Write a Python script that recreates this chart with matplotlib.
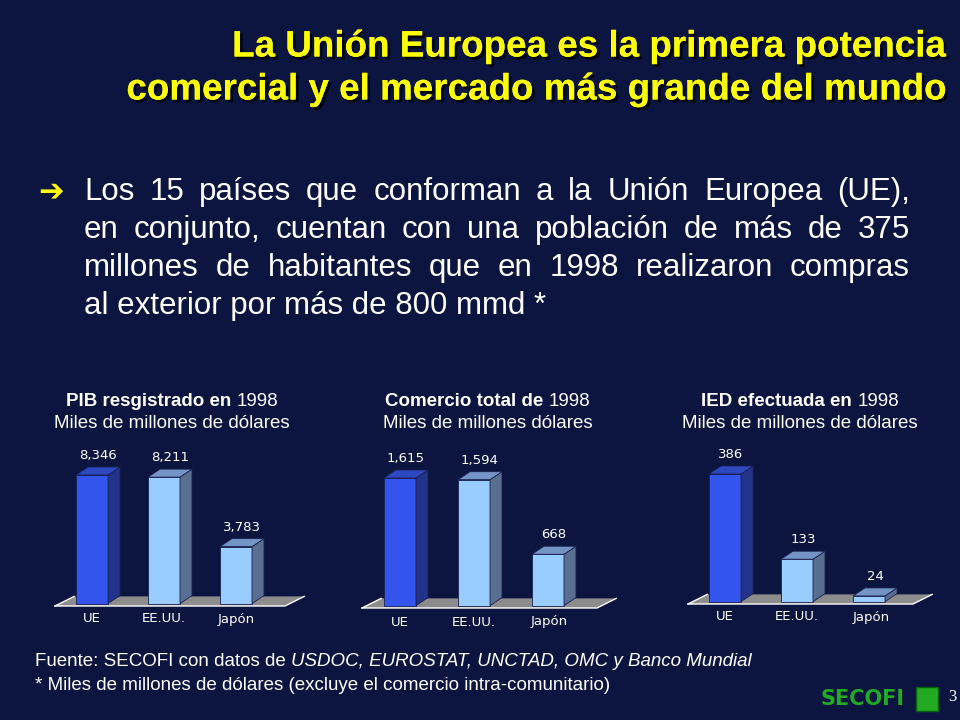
import matplotlib
matplotlib.use("Agg")
import matplotlib.pyplot as plt
import matplotlib.patheffects as pe
from matplotlib.patches import Polygon, Rectangle

BG = "#0b1540"
FONT = "Liberation Sans"

categories = ["UE", "EE.UU.", "Japón"]
pib = [8346, 8211, 3783]
comercio = [1615, 1594, 668]
ied = [386, 133, 24]
pib_labels = ["8,346", "8,211", "3,783"]
comercio_labels = ["1,615", "1,594", "668"]
ied_labels = ["386", "133", "24"]

fig = plt.figure(figsize=(9.6, 7.2), dpi=100)
fig.patch.set_facecolor(BG)
W, H = 960, 720


def ftext(x, y, s, **kw):
    kw.setdefault("family", FONT)
    kw.setdefault("color", "white")
    return fig.text(x / W, 1 - y / H, s, **kw)


# title
shadow = [pe.withSimplePatchShadow(offset=(2, -2), shadow_rgbFace="black", alpha=0.8), pe.Normal()]
ftext(945, 47, "La Unión Europea es la primera potencia", size=26.5, weight="bold",
      color="#ffff00", ha="right", va="center", path_effects=shadow)
ftext(945, 90, "comercial y el mercado más grande del mundo", size=26.5, weight="bold",
      color="#ffff00", ha="right", va="center", path_effects=shadow)

# bullet text, justified
ftext(38, 192, "➔", size=22, color="#ffff00", ha="left", va="center", family="DejaVu Sans",
      weight="bold")
lines = ["Los 15 países que conforman a la Unión Europea (UE),",
         "en conjunto, cuentan con una población de más de 375",
         "millones de habitantes  que en 1998 realizaron compras",
         "al exterior por más de 800 mmd *"]
fig.canvas.draw()
r = fig.canvas.get_renderer()
x0, x1 = 84, 910
BS = 22.5
for i, ln in enumerate(lines):
    y = 192 + i * 38
    words = ln.split()
    if i == len(lines) - 1:
        ftext(x0, y, ln, size=BS, ha="left", va="center")
        continue
    ts = [ftext(0, y, w, size=BS, ha="left", va="center") for w in words]
    ws = [t.get_window_extent(r).width for t in ts]
    gap = (x1 - x0 - sum(ws)) / (len(words) - 1)
    x = x0
    for t, w in zip(ts, ws):
        t.set_x(x / W)
        x += w + gap


def mixed(y, parts, size=13.5):
    ts = [ftext(0, y, s, size=size, weight=wt, style=st, ha="left", va="center")
          for s, wt, st in parts]
    ws = [t.get_window_extent(r).width for t in ts]
    return ts, ws


def place(ts, ws, x):
    for t, w in zip(ts, ws):
        t.set_x(x / W)
        x += w


def heading(xc, y, bold, reg, sub):
    ts, ws = mixed(y, [(bold + " ", "bold", "normal"), (reg, "normal", "normal")])
    place(ts, ws, xc - sum(ws) / 2)
    ftext(xc, y + 23, sub, size=13.5, ha="center", va="center")


heading(172, 401, "PIB resgistrado en", "1998", "Miles de millones de dólares")
heading(488, 401, "Comercio total de", "1998", "Miles de millones dólares")
heading(800, 401, "IED efectuada en", "1998", "Miles de millones de dólares")

FRONT = [("#3355ee", "#223389", "#2d48c0"), ("#99ccff", "#5a6f8f", "#7394c4"),
         ("#99ccff", "#5a6f8f", "#7394c4")]


def chart(values, labels, centers, base_px, top_px, left_px, right_px, lab_y):
    sp = centers[1] - centers[0]
    ymax = values[0] * (base_px - 445) / (base_px - top_px)
    ax = fig.add_axes([left_px / W, 1 - base_px / H, (right_px - left_px) / W, (base_px - 445) / H])
    ax.set_xlim((left_px - centers[0]) / sp, (right_px - centers[0]) / sp)
    ax.set_ylim(0, ymax)
    ax.axis("off")
    dx = 12 / sp
    dy = 8 * ymax / (base_px - 445)
    bw = 32 / sp
    fl, fr = (left_px + 15 - centers[0]) / sp, (right_px - 15 - centers[0]) / sp
    ax.add_patch(Polygon([(fl, 0), (fr, 0), (fr + dx * 1.6, dy * 1.2), (fl + dx * 1.6, dy * 1.2)],
                         closed=True, fc="#8c8c8c", ec="none", clip_on=False))
    ax.plot([fl, fr, fr + dx * 1.6], [0, 0, dy * 1.2], color="white", lw=1, clip_on=False)
    ax.plot([fl, fl + dx * 1.6], [0, dy * 1.2], color="white", lw=1, clip_on=False)
    for i, v in enumerate(values):
        x = i - bw / 2
        f, s, t = FRONT[i]
        ax.add_patch(Rectangle((x, dy * 0.3), bw, v - dy * 0.3, fc=f, ec="#1a2050", lw=0.6))
        ax.add_patch(Polygon([(x + bw, dy * 0.3), (x + bw + dx, dy * 1.3), (x + bw + dx, v + dy),
                              (x + bw, v)], closed=True, fc=s, ec="#1a2050", lw=0.6))
        ax.add_patch(Polygon([(x, v), (x + bw, v), (x + bw + dx, v + dy), (x + dx, v + dy)],
                             closed=True, fc=t, ec="#1a2050", lw=0.6, clip_on=False))
        ax.text(i + dx / 2, v + dy * 1.6, labels[i], color="white", family="DejaVu Sans",
                size=9.5, ha="center", va="bottom", clip_on=False)
        ftext(centers[i], lab_y, categories[i], size=9.5, family="DejaVu Sans",
              ha="center", va="center")


chart(pib, pib_labels, [92, 164, 236], 606, 475, 40, 300, 619)
chart(comercio, comercio_labels, [400, 474, 549], 608, 478, 347, 612, 622)
chart(ied, ied_labels, [725, 797, 871], 604, 474, 673, 928, 617)

# footer
ts, ws = mixed(662, [("Fuente: SECOFI con datos de ", "normal", "normal"),
                     ("USDOC, EUROSTAT, UNCTAD, OMC y Banco Mundial", "normal", "italic")])
place(ts, ws, 35)
ftext(35, 685, "* Miles de millones de dólares (excluye el comercio intra-comunitario)",
      size=13.5, ha="left", va="center")

# logo and page number
ftext(820, 699, "SECOFI", size=15, weight="bold", color="#22aa22", ha="left", va="center",
      family="DejaVu Sans")
fig.patches.append(Rectangle((916 / W, 1 - 711 / H), 22 / W, 24 / H,
                             transform=fig.transFigure, fc="#22aa22", ec="#0a6010"))
ftext(952, 697, "3", size=12, family="Liberation Serif", ha="center", va="center")

fig.savefig("out.png", facecolor=BG)
